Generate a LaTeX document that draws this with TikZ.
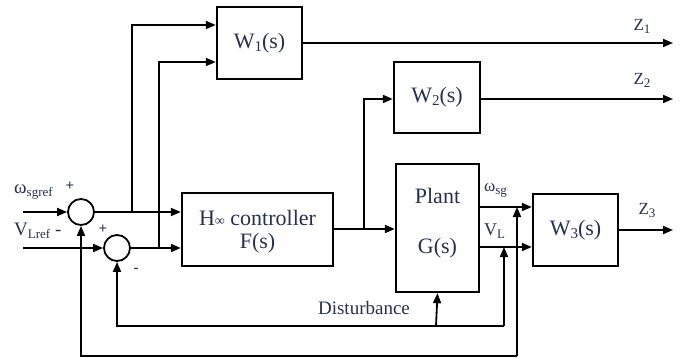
\documentclass[tikz,border=0pt]{standalone}
\usepackage{fontspec}
\setmainfont{Liberation Serif}
\usetikzlibrary{arrows.meta}
\definecolor{txt}{RGB}{38,48,80}
\newcommand{\lsub}[1]{{\fontsize{13}{13}\selectfont\raisebox{-3pt}{#1}}}
\newcommand{\bsub}[1]{{\fontsize{15}{15}\selectfont\raisebox{-3pt}{#1}}}
\begin{document}
\begin{tikzpicture}[x=1pt,y=-1pt,
  blk/.style={draw,line width=2.4pt,inner sep=0pt,text=txt,font=\fontsize{22}{26}\selectfont,align=center},
  sumc/.style={draw,circle,line width=1.8pt,minimum size=26pt,inner sep=0pt},
  lab/.style={text=txt,inner sep=0pt,font=\fontsize{19}{22}\selectfont},
  bl/.style={text=txt,inner sep=0pt,font=\fontsize{22}{26}\selectfont},
  zlab/.style={text=txt,inner sep=0pt,font=\fontsize{17}{19}\selectfont},
  sig/.style={line width=1.8pt,-{Triangle[length=10pt,width=8pt]}},
  ln/.style={line width=1.8pt}]
\useasboundingbox (0,0) rectangle (682,358);
% blocks
\node[blk,minimum width=85pt,minimum height=72pt] (w1) at (259.5,43) {W\bsub{1}(s)};
\node[blk,minimum width=86pt,minimum height=71pt] (w2) at (437,97.5) {W\bsub{2}(s)};
\node[blk,minimum width=151pt,minimum height=73pt] (ctrl) at (257.5,229.5) {};
\node[bl] (ctrlt1) at (257.5,218) {H{\fontsize{14}{14}\selectfont ∞} controller};
\node[bl] (ctrlt2) at (257.5,243) {F(s)};
\node[blk,minimum width=83pt,minimum height=128pt] (plant) at (437.5,228) {};
\node[bl] (plantt1) at (437.5,196) {Plant};
\node[bl] (plantt2) at (437.5,248) {G(s)};
\node[blk,minimum width=85pt,minimum height=72pt] (w3) at (575.5,230) {W\bsub{3}(s)};
\node[sumc] (s1) at (81,212) {};
\node[sumc] (s2) at (117,248) {};
% coordinates
\coordinate (in1) at (23,212);
\coordinate (in2) at (23,248);
\coordinate (b1) at (132,212);
\coordinate (b1t) at (132,25);
\coordinate (b2) at (159,248);
\coordinate (b2t) at (159,62);
\coordinate (b3) at (364,229);
\coordinate (b3t) at (364,99);
\coordinate (z1) at (673,43);
\coordinate (z2) at (673,99);
\coordinate (z3) at (673,230);
\coordinate (fo) at (517,356);
\coordinate (fol) at (81,356);
\coordinate (fi) at (504,326);
\coordinate (fil) at (117,326);
\coordinate (dist) at (436,326);
\coordinate (osg) at (517,207);
\coordinate (vl) at (504,247);
% connectors
\draw[sig] (in1) -- (s1.west);
\draw[sig] (in2) -- (s2.west);
\draw[sig] (s1.east) -- (ctrl.west |- s1.east);
\draw[sig] (s2.east) -- (ctrl.west |- s2.east);
\draw[sig] (b1) -- (b1t) -- (w1.west |- b1t);
\draw[sig] (b2) -- (b2t) -- (w1.west |- b2t);
\draw[sig] (ctrl.east |- b3) -- (plant.west |- b3);
\draw[sig] (b3) -- (b3t) -- (w2.west |- b3t);
\draw[sig] (w1.east) -- (z1);
\draw[sig] (w2.east |- z2) -- (z2);
\draw[sig] (w3.east) -- (z3);
\draw[sig] (plant.east |- osg) -- (w3.west |- osg);
\draw[sig] (plant.east |- vl) -- (w3.west |- vl);
\draw[sig] (fo) -- (fol) -- (s1.south);
\draw[sig] (fo) -- (osg);
\draw[sig] (fi) -- (fil) -- (s2.south);
\draw[sig] (fi) -- (vl);
\draw[sig] (dist) -- (plant.south);
% labels
\node[lab,anchor=west] (lw) at (14,192) {ω\lsub{sgref}};
\node[lab] (p1) at (70,186) {\fontsize{15}{15}\selectfont\bfseries +};
\node[lab,anchor=west] (lv) at (14,231) {V\lsub{Lref} -};
\node[lab] (p2) at (103,229) {\fontsize{15}{15}\selectfont\bfseries +};
\node[lab] (m2) at (136,270) {\fontsize{15}{15}\selectfont\bfseries -};
\node[lab,anchor=west] (losg) at (484,190) {\fontsize{17}{18}\selectfont ω\lsub{sg}};
\node[lab,anchor=west] (lvl) at (484,231) {\fontsize{18}{18}\selectfont V\lsub{L}};
\node[lab] (ldist) at (364,308) {Disturbance};
\node[zlab] (lz1) at (642,26) {Z\lsub{1}};
\node[zlab] (lz2) at (642,80) {Z\lsub{2}};
\node[zlab] (lz3) at (647,210) {Z\lsub{3}};
\end{tikzpicture}
\end{document}
